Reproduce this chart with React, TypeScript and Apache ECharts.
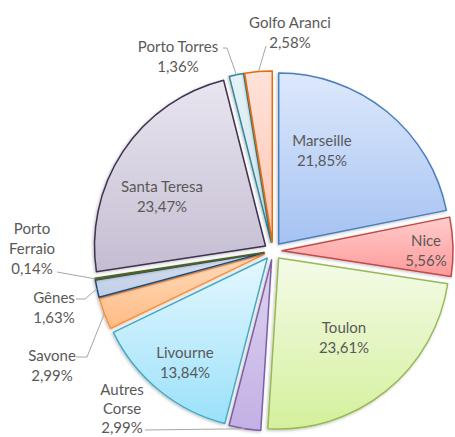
import React, { useEffect, useRef } from "react";
import * as echarts from "echarts";

// ---- data ----
const categories = [
  "Marseille",
  "Nice",
  "Toulon",
  "Autres Corse",
  "Livourne",
  "Savone",
  "Gênes",
  "Porto Ferraio",
  "Santa Teresa",
  "Porto Torres",
  "Golfo Aranci",
];
const shares = [21.85, 5.56, 23.61, 2.99, 13.84, 2.99, 1.63, 0.14, 23.47, 1.36, 2.58];

// ---- styles / layout ----
const topColors = ["#dde9fc", "#ffcccc", "#f4fbe8", "#ddd2f0", "#e4f7fe", "#ffdcbc", "#d8e2f0", "#8aa84c", "#e9e5ef", "#e4f2f6", "#ffe2da"];
const bottomColors = ["#a6c2f2", "#ff9a9a", "#d4f09c", "#c3b0e5", "#9be1fa", "#ffbb85", "#bfcee6", "#6f8c34", "#c4bdd2", "#cfe6ed", "#ffc6b2"];
const borderColors = ["#4a7ebb", "#be4b48", "#98b954", "#7d60a0", "#46aac5", "#f69240", "#1f497d", "#4f6228", "#3f3151", "#31859c", "#e46c0a"];
// label text block centres (layout only)
const labelAnchors: [number, number][] = [
  [322, 150],
  [426, 250],
  [344, 337],
  [122, 408],
  [185, 362],
  [52, 365],
  [54, 307],
  [32, 248],
  [162, 196],
  [178, 56],
  [290, 32],
];
// leader line start points near the label text (layout only)
const leaderStarts: ([number, number][] | null)[] = [
  null, null, null,
  [[145, 430]],
  null,
  [[76, 357], [87, 357]],
  [[76, 299], [85, 299]],
  [[57, 272]],
  null,
  [[223, 48], [227, 48]],
  [[266, 46]],
];

const CX = 273;
const CY = 251;
const R = 171;
const OFFSET = 9;

const fmtPct = (v: number) => v.toFixed(2).replace(".", ",") + "%";

export default function App() {
  const ref = useRef<HTMLDivElement>(null);
  useEffect(() => {
    if (!ref.current) return;
    const chart = echarts.init(ref.current, undefined, { renderer: "svg" });
    const total = shares.reduce((a, b) => a + b, 0);
    const midAngles: number[] = [];
    let cum = 0;
    shares.forEach((v) => {
      midAngles.push(((cum + v / 2) / total) * Math.PI * 2);
      cum += v;
    });
    const data = categories.map((name, i) => ({
      name,
      value: shares[i],
      selected: true,
      itemStyle: {
        color: new echarts.graphic.LinearGradient(0, 0, 0, 1, [
          { offset: 0, color: topColors[i] },
          { offset: 1, color: bottomColors[i] },
        ]),
        borderColor: borderColors[i],
      },
    }));

    const graphics: any[] = [];
    categories.forEach((name, i) => {
      const nm = name === "Autres Corse" || name === "Porto Ferraio" ? name.replace(" ", "\n") : name;
      const a = labelAnchors[i];
      graphics.push({
        type: "text",
        x: a[0],
        y: a[1],
        z: 100,
        silent: true,
        style: {
          text: nm + "\n" + fmtPct(shares[i]),
          fontFamily: "Lato",
          fontSize: 15,
          lineHeight: i === 3 ? 19 : 20,
          fill: "#595959",
          align: "center",
          verticalAlign: "middle",
          textAlign: "center",
          textVerticalAlign: "middle",
        },
      });
      const st = leaderStarts[i];
      if (st) {
        const t = midAngles[i];
        const d = R + OFFSET;
        const end: [number, number] = [CX + d * Math.sin(t), CY - d * Math.cos(t)];
        graphics.push({
          type: "polyline",
          silent: true,
          z: 100,
          shape: { points: [...st, end] },
          style: { stroke: "#a6a6a6", lineWidth: 1, fill: null },
        });
      }
    });

    chart.setOption({
      animation: false,
      backgroundColor: "#ffffff",
      graphic: graphics,
      series: [
        {
          type: "pie",
          center: [CX, CY],
          radius: R,
          startAngle: 90,
          clockwise: true,
          selectedMode: "multiple",
          selectedOffset: OFFSET,
          silent: true,
          itemStyle: {
            borderWidth: 1.5,
            shadowColor: "rgba(0,0,0,0.25)",
            shadowBlur: 3,
            shadowOffsetX: -1,
            shadowOffsetY: 1,
          },
          label: { show: false },
          labelLine: { show: false },
          data,
        },
      ],
    });
    return () => chart.dispose();
  }, []);
  return (
    <div
      ref={ref}
      style={{ position: "fixed", left: 0, top: 0, width: 455, height: 437, background: "#fff" }}
    />
  );
}
